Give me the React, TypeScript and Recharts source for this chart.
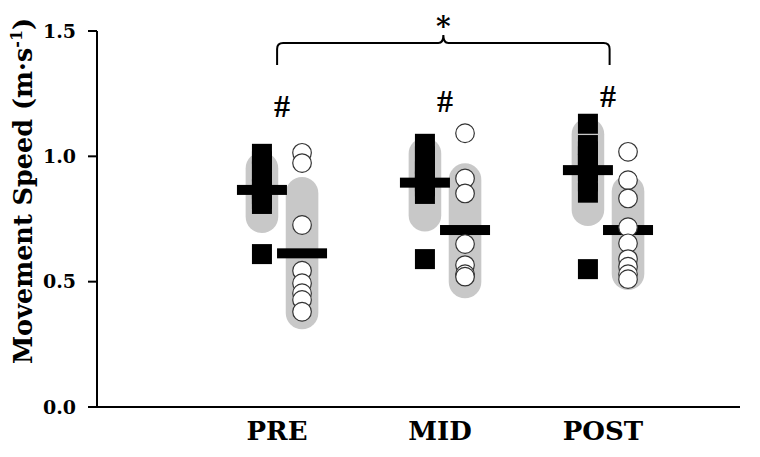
import React from "react";
import {
    ComposedChart,
    Scatter,
    XAxis,
    YAxis,
    ReferenceArea,
} from "recharts";

// values (m·s-1)
const categories = ["PRE", "MID", "POST"];

const squareValues = [
    [1.01, 0.98, 0.94, 0.9, 0.87, 0.85, 0.83, 0.81, 0.61],
    [1.05, 1.0, 0.97, 0.94, 0.92, 0.9, 0.88, 0.85, 0.59],
    [1.13, 1.045, 1.02, 1.0, 0.97, 0.94, 0.9, 0.855, 0.55],
];
const circleValues = [
    [1.014, 0.973, 0.726, 0.544, 0.494, 0.454, 0.427, 0.38],
    [1.092, 0.912, 0.852, 0.65, 0.566, 0.53, 0.52],
    [1.018, 0.905, 0.832, 0.717, 0.653, 0.59, 0.56, 0.53, 0.51],
];
const squareMeans = [0.866, 0.895, 0.945];
const circleMeans = [0.613, 0.706, 0.706];
// gray bands (low, high)
const squareBands = [[0.694, 1.017], [0.7, 1.075], [0.722, 1.153]];
const circleBands = [[0.31, 0.918], [0.434, 0.972], [0.467, 0.925]];
// "#" marks above each time point
const hashLevels = [1.2, 1.22, 1.24];
// brace PRE -> POST
const braceRange = [1.364, 1.484];
const yTicks = [0, 0.5, 1.0, 1.5];

const SERIF = "'DejaVu Serif', serif";
const GROUP_OFFSET = 0.123;
const BAND_HALF = 0.1;

const catX = (i: number) => i + 1;

const squarePoints = squareValues.flatMap((vals, i) =>
    vals.map((v) => ({ x: catX(i) - GROUP_OFFSET, y: v }))
);
const circlePoints = circleValues.flatMap((vals, i) =>
    vals.map((v) => ({ x: catX(i) + GROUP_OFFSET, y: v }))
);
const meanPoints = [
    ...squareMeans.map((m, i) => ({ x: catX(i) - GROUP_OFFSET, y: m })),
    ...circleMeans.map((m, i) => ({ x: catX(i) + GROUP_OFFSET, y: m })),
];
const hashPoints = hashLevels.map((v, i) => ({ x: catX(i), y: v }));

const SquareShape = (props: any) => {
    const { cx, cy } = props;
    return <rect x={cx - 10} y={cy - 10} width={20} height={20} fill="#000" />;
};

const CircleShape = (props: any) => {
    const { cx, cy } = props;
    return <circle cx={cx} cy={cy} r={9.3} fill="#fff" stroke="#333" strokeWidth={1.2} />;
};

const MeanShape = (props: any) => {
    const { cx, cy } = props;
    return <rect x={cx - 25} y={cy - 5} width={50} height={10} fill="#000" />;
};

const HashShape = (props: any) => {
    const { cx, cy } = props;
    return (
        <text x={cx} y={cy + 11} textAnchor="middle" fontFamily="'Liberation Serif', serif" fontWeight="bold" fontSize={32} fill="#000">
            #
        </text>
    );
};

const Pill = (props: any) => {
    const { x, y, width, height } = props;
    return <rect x={x} y={y} width={width} height={height} rx={width / 2} ry={width / 2} fill="#c8c8c8" />;
};

const Brace = (props: any) => {
    const { x, y, width, height } = props;
    const xl = x;
    const xr = x + width;
    const xm = x + width / 2;
    const yb = y + height;
    const yh = y + 8;
    const r = 6;
    const d = `M ${xl} ${yb} L ${xl} ${yh + r} Q ${xl} ${yh} ${xl + r} ${yh} L ${xm - 5} ${yh} Q ${xm} ${yh} ${xm} ${y}` +
        ` Q ${xm} ${yh} ${xm + 5} ${yh} L ${xr - r} ${yh} Q ${xr} ${yh} ${xr} ${yh + r} L ${xr} ${yb}`;
    return (
        <g>
            <path d={d} fill="none" stroke="#000" strokeWidth={2} />
            <text x={xm} y={y + 1} textAnchor="middle" fontFamily={SERIF} fontWeight="bold" fontSize={28} fill="#000">
                *
            </text>
        </g>
    );
};

const YTitle = () => (
    <text transform="translate(32,191) rotate(-90)" textAnchor="middle" fontFamily={SERIF} fontWeight="bold" fontSize={25.5} fill="#000">
        Movement Speed (m·s
        <tspan dy={-10} fontSize={16}>-1</tspan>
        <tspan dy={10}>)</tspan>
    </text>
);

const CategoryTick = (props: any) => {
    const { x, y, payload } = props;
    const name = categories[payload.value - 1] ?? "";
    return (
        <text x={x - 5} y={y + 33} textAnchor="middle" fontFamily={SERIF} fontWeight="bold" fontSize={26} fill="#000">
            {name}
        </text>
    );
};

const App = () => {
    return (
        <div style={{ position: "absolute", left: 0, top: 0, background: "#fff" }}>
            <ComposedChart width={760} height={457} margin={{ top: 31, right: 20, bottom: 0, left: 0 }}>
                <XAxis
                    type="number"
                    dataKey="x"
                    domain={[-0.135, 3.81]}
                    allowDataOverflow
                    ticks={[1, 2, 3]}
                    tick={<CategoryTick />}
                    tickLine={false}
                    tickSize={0}
                    tickMargin={0}
                    height={50}
                    axisLine={{ stroke: "#000", strokeWidth: 2 }}
                />
                <YAxis
                    type="number"
                    dataKey="y"
                    domain={[0, 1.5]}
                    allowDataOverflow
                    ticks={yTicks}
                    tickFormatter={(v: number) => v.toFixed(1)}
                    width={97}
                    tickSize={9}
                    tickMargin={12}
                    tick={{ fontFamily: SERIF, fontWeight: "bold", fontSize: 19, fill: "#000" }}
                    tickLine={{ stroke: "#000", strokeWidth: 2 }}
                    axisLine={{ stroke: "#000", strokeWidth: 2 }}
                    label={<YTitle />}
                />

                {squareBands.map(([lo, hi], i) => (
                    <ReferenceArea
                        key={`sb-${i}`}
                        x1={catX(i) - GROUP_OFFSET - BAND_HALF}
                        x2={catX(i) - GROUP_OFFSET + BAND_HALF}
                        y1={lo}
                        y2={hi}
                        shape={Pill}
                    />
                ))}
                {circleBands.map(([lo, hi], i) => (
                    <ReferenceArea
                        key={`cb-${i}`}
                        x1={catX(i) + GROUP_OFFSET - BAND_HALF}
                        x2={catX(i) + GROUP_OFFSET + BAND_HALF}
                        y1={lo}
                        y2={hi}
                        shape={Pill}
                    />
                ))}
                <ReferenceArea
                    x1={catX(0) - 0.03}
                    x2={catX(2) + 0.01}
                    y1={braceRange[0]}
                    y2={braceRange[1]}
                    ifOverflow="visible"
                    shape={Brace}
                />

                <Scatter data={squarePoints} shape={SquareShape} isAnimationActive={false} />
                <Scatter data={meanPoints} shape={MeanShape} isAnimationActive={false} />
                <Scatter data={circlePoints} shape={CircleShape} isAnimationActive={false} />
                <Scatter data={hashPoints} shape={HashShape} isAnimationActive={false} />
            </ComposedChart>
        </div>
    );
};

export default App;
